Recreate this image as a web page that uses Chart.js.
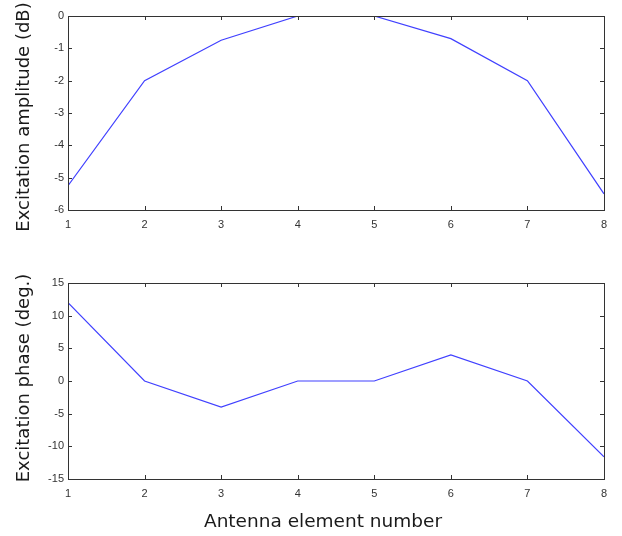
<!DOCTYPE html>
<html>
<head>
<meta charset="utf-8">
<script src="https://cdn.jsdelivr.net/npm/chart.js@4/dist/chart.umd.min.js"></script>
<style>
  html, body { margin: 0; padding: 0; background: #fff; }
  #wrap { position: relative; width: 622px; height: 536px; }
  canvas { position: absolute; left: 0; }
  #ampChart { top: 0; }
  #phaseChart { top: 260px; }
</style>
</head>
<body>
<div id="wrap">
  <canvas id="ampChart" width="622" height="250"></canvas>
  <canvas id="phaseChart" width="622" height="276"></canvas>
</div>
<script>
// antenna element index and the excitation per element
const elements = [1, 2, 3, 4, 5, 6, 7, 8];
const amplitudeDb = [-5.25, -2, -0.75, 0, 0, -0.7, -2, -5.5];
const phaseDeg = [12, 0, -4, 0, 0, 4, 0, -11.6];

const xTicks = [1, 2, 3, 4, 5, 6, 7, 8];
const ampTicks = [0, -1, -2, -3, -4, -5, -6];
const phaseTicks = [15, 10, 5, 0, -5, -10, -15];

const LINE_COLOR = "#4040ff";
const AXIS_COLOR = "#333333";
const TICK_FONT = { family: "Arial, 'Liberation Sans', sans-serif", size: 11 };
const TITLE_FONT = "18px 'DejaVu Sans', sans-serif";

// matlab style box with inward tick marks on all four sides
const boxAxes = {
    id: "boxAxes",
    afterDraw(chart) {
        const { ctx, chartArea: a, scales } = chart;
        const len = 4;
        ctx.save();
        ctx.strokeStyle = AXIS_COLOR;
        ctx.lineWidth = 1;
        ctx.beginPath();
        scales.x.ticks.forEach((t) => {
            const px = Math.round(scales.x.getPixelForValue(t.value)) + 0.5;
            ctx.moveTo(px, a.bottom);
            ctx.lineTo(px, a.bottom - len);
            ctx.moveTo(px, a.top);
            ctx.lineTo(px, a.top + len);
        });
        scales.y.ticks.forEach((t) => {
            const py = Math.round(scales.y.getPixelForValue(t.value)) + 0.5;
            ctx.moveTo(a.left, py);
            ctx.lineTo(a.left + len, py);
            ctx.moveTo(a.right, py);
            ctx.lineTo(a.right - len, py);
        });
        ctx.stroke();
        ctx.strokeRect(
            Math.round(a.left) + 0.5,
            Math.round(a.top) + 0.5,
            Math.round(a.right - a.left),
            Math.round(a.bottom - a.top)
        );
        ctx.restore();
    },
};

// axis titles, placed where the figure had them
const axisTitles = {
    id: "axisTitles",
    afterDraw(chart, args, o) {
        const ctx = chart.ctx;
        ctx.save();
        ctx.fillStyle = "#1a1a1a";
        ctx.textAlign = "center";
        ctx.textBaseline = "middle";
        if (o.y) {
            ctx.save();
            ctx.font = TITLE_FONT;
            ctx.translate(o.y.x, o.y.y);
            ctx.rotate(-Math.PI / 2);
            ctx.fillText(o.y.text, 0, 0);
            ctx.restore();
        }
        if (o.x) {
            ctx.font = "18.5px 'DejaVu Sans', sans-serif";
            ctx.fillText(o.x.text, o.x.x, o.x.y);
        }
        ctx.restore();
    },
};

function makeChart(id, values, yTicks, opts) {
    const ctx = document.getElementById(id).getContext("2d");
    const points = elements.map((x, i) => ({ x, y: values[i] }));

    return new Chart(ctx, {
        type: "line",
        data: {
            datasets: [
                {
                    data: points,
                    borderColor: LINE_COLOR,
                    borderWidth: 1.2,
                    pointRadius: 0,
                    tension: 0,
                    fill: false,
                },
            ],
        },
        options: {
            responsive: false,
            animation: false,
            devicePixelRatio: 1,
            layout: { padding: { top: opts.padTop, right: 18, left: 0, bottom: 0 } },
            plugins: {
                legend: { display: false },
                tooltip: { enabled: false },
                axisTitles: opts.titles,
            },
            scales: {
                x: {
                    type: "linear",
                    min: xTicks[0],
                    max: xTicks[xTicks.length - 1],
                    afterBuildTicks: (s) => {
                        s.ticks = xTicks.map((v) => ({ value: v }));
                    },
                    grid: { display: false, drawTicks: false },
                    border: { display: false },
                    ticks: { color: AXIS_COLOR, font: TICK_FONT, padding: 8, maxRotation: 0 },
                    afterFit: (s) => {
                        s.height = opts.xHeight;
                    },
                },
                y: {
                    min: Math.min(...yTicks),
                    max: Math.max(...yTicks),
                    afterBuildTicks: (s) => {
                        s.ticks = yTicks.map((v) => ({ value: v }));
                    },
                    grid: { display: false, drawTicks: false },
                    border: { display: false },
                    ticks: { color: AXIS_COLOR, font: TICK_FONT, padding: 4 },
                    afterFit: (s) => {
                        s.width = 68;
                    },
                },
            },
        },
        plugins: [boxAxes, axisTitles],
    });
}

makeChart("ampChart", amplitudeDb, ampTicks, {
    padTop: 16,
    xHeight: 40,
    titles: { y: { text: "Excitation amplitude (dB)", x: 24, y: 117 } },
});
makeChart("phaseChart", phaseDeg, phaseTicks, {
    padTop: 23,
    xHeight: 57,
    titles: {
        y: { text: "Excitation phase (deg.)", x: 24, y: 118 },
        x: { text: "Antenna element number", x: 323, y: 262 },
    },
});
</script>
</body>
</html>
